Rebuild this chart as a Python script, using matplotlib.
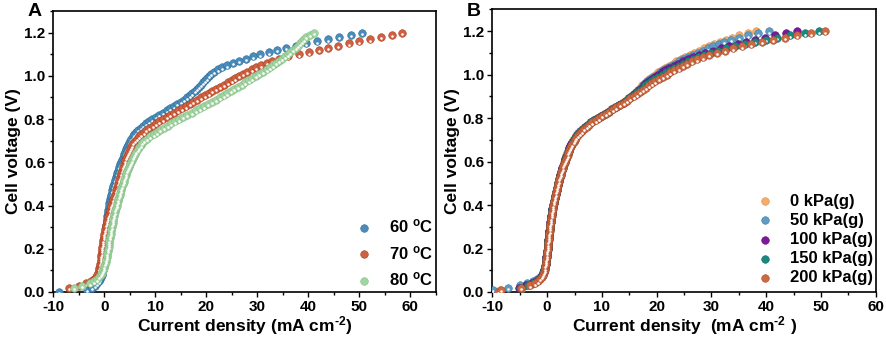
import numpy as np
import matplotlib
matplotlib.use("Agg")
import matplotlib.pyplot as plt
from matplotlib.transforms import offset_copy
from matplotlib.ticker import MultipleLocator

nan = np.nan

# LSV sweep grid, 0.00 .. 1.20 V in 10 mV steps
voltage = np.round(np.arange(121) * 0.01, 2)

# ---- panel A: temperature (current density, mA cm-2) ----
temp_labels = ["60 $^{o}$C", "70 $^{o}$C", "80 $^{o}$C"]
temp_colors = ["#4a8cba", "#cf6040", "#a3d4a3"]
temp_edges = ["#2f6d99", "#a84325", "#82bd82"]

j_60 = [-8.9, -3.4, -2.4, -1.8, -1.4, -1.1, -0.85, -0.65, -0.5, -0.38,
        -0.28, -0.2, -0.13, -0.07, -0.02, 0.02, 0.05, 0.08, 0.1, 0.12,
        0.14, 0.16, 0.18, 0.2, 0.22, 0.24, 0.27, 0.3, 0.33, 0.36,
        0.39, 0.42, 0.45, 0.49, 0.53, 0.58, 0.64, 0.7, 0.77, 0.84,
        0.92, 1.0, 1.08, 1.17, 1.26, 1.36, 1.46, 1.57, 1.68, 1.79,
        1.9, 2.03, 2.16, 2.29, 2.42, 2.55, 2.68, 2.82, 2.96, 3.12,
        3.28, 3.44, 3.6, 3.76, 3.93, 4.1, 4.27, 4.45, 4.64, 4.84,
        5.05, 5.3, 5.58, 5.9, 6.25, 6.65, 7.1, 7.6, 8.15, 8.75,
        9.4, 10.1, 10.8, 11.5, 12.2, 12.9, 13.6, 14.3, 14.95, 15.6,
        16.2, 16.75, 17.25, 17.7, 18.1, 18.5, 18.9, 19.3, 19.7, 20.1,
        20.5, 21.0, 21.6, 22.3, 23.1, 24.1, 25.2, 26.4, 27.7, 29.1,
        30.6, 32.2, 33.9, 35.7, 37.6, 39.6, 41.7, 43.9, 46.1, 48.3, 50.6]

j_70 = [nan, nan, -7.0, -5.0, -3.5, -2.6, -2.0, -1.6, -1.35, -1.18,
        -1.05, -0.95, -0.87, -0.8, -0.74, -0.68, -0.63, -0.58, -0.53, -0.48,
        -0.43, -0.38, -0.32, -0.26, -0.2, -0.14, -0.07, 0.0, 0.08, 0.17,
        0.26, 0.36, 0.46, 0.56, 0.67, 0.78, 0.9, 1.02, 1.14, 1.27,
        1.4, 1.53, 1.66, 1.79, 1.92, 2.06, 2.2, 2.34, 2.48, 2.6,
        2.72, 2.84, 2.96, 3.08, 3.2, 3.32, 3.45, 3.58, 3.71, 3.85,
        4.0, 4.15, 4.3, 4.46, 4.63, 4.81, 5.0, 5.2, 5.44, 5.7,
        6.0, 6.35, 6.75, 7.2, 7.7, 8.25, 8.85, 9.5, 10.15, 10.8,
        11.5, 12.2, 12.95, 13.7, 14.45, 15.2, 15.95, 16.7, 17.45, 18.2,
        18.95, 19.7, 20.45, 21.2, 21.95, 22.7, 23.45, 24.2, 24.95, 25.7,
        26.45, 27.25, 28.05, 28.9, 29.8, 30.75, 31.8, 32.95, 34.25, 35.95,
        38.1, 40.1, 42.0, 43.9, 45.9, 48.0, 50.0, 52.1, 54.3, 56.4, 58.3]

j_80 = [nan, nan, -6.0, -4.4, -2.9, -2.0, -1.45, -1.05, -0.75, -0.5,
        -0.3, -0.12, 0.03, 0.15, 0.26, 0.36, 0.45, 0.54, 0.62, 0.7,
        0.77, 0.83, 0.89, 0.95, 1.01, 1.07, 1.14, 1.21, 1.29, 1.37,
        1.45, 1.53, 1.61, 1.7, 1.79, 1.88, 1.98, 2.08, 2.18, 2.29,
        2.4, 2.51, 2.62, 2.74, 2.86, 2.98, 3.1, 3.23, 3.36, 3.5,
        3.64, 3.77, 3.9, 4.03, 4.17, 4.31, 4.46, 4.62, 4.79, 4.97,
        5.16, 5.36, 5.57, 5.79, 6.02, 6.26, 6.52, 6.8, 7.1, 7.45,
        7.85, 8.4, 9.0, 9.65, 10.3, 11.0, 11.7, 12.4, 13.15, 13.9,
        14.7, 15.5, 16.3, 17.1, 17.9, 18.7, 19.5, 20.3, 21.1, 21.9,
        22.7, 23.4, 24.1, 24.8, 25.5, 26.2, 26.9, 27.6, 28.3, 29.0,
        29.7, 30.4, 31.1, 31.8, 32.4, 33.0, 33.6, 34.2, 34.8, 35.4,
        36.0, 36.5, 37.0, 37.5, 37.9, 38.3, 38.7, 39.1, 39.6, 40.3, 41.2]

# ---- panel B: back pressure ----
pres_labels = ["0 kPa(g)", "50 kPa(g)", "100 kPa(g)", "150 kPa(g)", "200 kPa(g)"]
pres_colors = ["#f6ad6a", "#5e9cc4", "#7d1a9a", "#1a8a80", "#cc6a44"]
pres_edges = ["#e08a45", "#3d7ea8", "#5c0c78", "#0e6a62", "#a84c2a"]

j_0 = [-9.5, -8.6, -4.6, -3.2, -2.4, -1.8, -1.4, -1.1, -0.85, -0.65,
       -0.5, -0.42, -0.35, -0.29, -0.23, -0.18, -0.13, -0.08, -0.03, 0.02,
       0.07, 0.11, 0.15, 0.19, 0.23, 0.27, 0.31, 0.36, 0.41, 0.46,
       0.51, 0.56, 0.61, 0.66, 0.71, 0.77, 0.83, 0.89, 0.96, 1.03,
       1.1, 1.18, 1.27, 1.36, 1.45, 1.54, 1.63, 1.72, 1.81, 1.9,
       2.0, 2.1, 2.2, 2.31, 2.42, 2.53, 2.64, 2.76, 2.88, 3.0,
       3.13, 3.26, 3.39, 3.53, 3.67, 3.82, 3.98, 4.15, 4.34, 4.55,
       4.78, 5.04, 5.33, 5.65, 6.0, 6.4, 6.85, 7.35, 7.9, 8.5,
       9.15, 9.8, 10.45, 11.1, 11.75, 12.4, 13.05, 13.7, 14.3, 14.85,
       15.35, 15.8, 16.2, 16.6, 17.0, 17.4, 17.8, 18.2, 18.65, 19.15,
       19.7, 20.3, 20.9, 21.5, 22.2, 22.9, 23.6, 24.4, 25.2, 26.0,
       26.8, 27.7, 28.6, 29.5, 30.5, 31.5, 32.6, 33.8, 35.1, 36.6, 38.1]

j_50 = [nan, -9.9, -7.1, -5.0, -3.6, -2.5, -1.8, -1.3, -0.95, -0.7,
        -0.52, -0.43, -0.35, -0.28, -0.22, -0.17, -0.12, -0.07, -0.02, 0.03,
        0.08, 0.12, 0.16, 0.2, 0.24, 0.28, 0.32, 0.37, 0.42, 0.47,
        0.52, 0.57, 0.62, 0.67, 0.72, 0.78, 0.84, 0.9, 0.97, 1.04,
        1.11, 1.19, 1.28, 1.37, 1.46, 1.55, 1.64, 1.73, 1.82, 1.92,
        2.02, 2.12, 2.22, 2.33, 2.44, 2.55, 2.67, 2.79, 2.92, 3.06,
        3.2, 3.33, 3.46, 3.6, 3.74, 3.89, 4.05, 4.22, 4.41, 4.62,
        4.85, 5.11, 5.4, 5.72, 6.07, 6.47, 6.92, 7.42, 7.97, 8.57,
        9.22, 9.87, 10.52, 11.17, 11.82, 12.47, 13.12, 13.77, 14.37, 14.92,
        15.42, 15.87, 16.27, 16.67, 17.07, 17.47, 17.87, 18.3, 18.8, 19.4,
        20.0, 20.6, 21.2, 21.9, 22.6, 23.3, 24.1, 24.9, 25.7, 26.6,
        27.5, 28.4, 29.3, 30.3, 31.3, 32.3, 33.5, 35.0, 36.7, 38.5, 40.5]

j_100 = [nan, nan, -5.2, -3.8, -2.8, -2.0, -1.5, -1.1, -0.85, -0.65,
         -0.5, -0.42, -0.35, -0.29, -0.23, -0.18, -0.13, -0.08, -0.03, 0.02,
         0.07, 0.11, 0.15, 0.19, 0.23, 0.27, 0.31, 0.36, 0.41, 0.46,
         0.51, 0.56, 0.61, 0.66, 0.71, 0.77, 0.83, 0.89, 0.96, 1.03,
         1.1, 1.18, 1.27, 1.36, 1.45, 1.54, 1.63, 1.72, 1.81, 1.9,
         2.0, 2.1, 2.2, 2.31, 2.42, 2.53, 2.65, 2.78, 2.92, 3.07,
         3.22, 3.35, 3.48, 3.62, 3.76, 3.91, 4.07, 4.24, 4.43, 4.64,
         4.87, 5.13, 5.42, 5.74, 6.1, 6.5, 6.95, 7.45, 8.0, 8.6,
         9.25, 9.9, 10.55, 11.2, 11.85, 12.5, 13.15, 13.8, 14.4, 14.95,
         15.45, 15.92, 16.36, 16.8, 17.24, 17.68, 18.14, 18.62, 19.12, 19.7,
         20.3, 20.9, 21.6, 22.3, 23.1, 23.9, 24.8, 25.7, 26.7, 27.7,
         28.8, 30.3, 31.8, 33.3, 34.9, 36.4, 38.0, 39.8, 41.7, 43.7, 45.6]

j_150 = [nan, nan, -4.9, -3.5, -2.6, -1.9, -1.4, -1.05, -0.8, -0.62,
         -0.48, -0.4, -0.33, -0.27, -0.21, -0.16, -0.11, -0.06, -0.01, 0.04,
         0.09, 0.13, 0.17, 0.21, 0.25, 0.29, 0.33, 0.38, 0.43, 0.48,
         0.53, 0.58, 0.63, 0.68, 0.73, 0.79, 0.85, 0.91, 0.98, 1.05,
         1.12, 1.2, 1.29, 1.38, 1.47, 1.56, 1.65, 1.74, 1.83, 1.93,
         2.03, 2.13, 2.23, 2.34, 2.45, 2.56, 2.68, 2.81, 2.95, 3.1,
         3.26, 3.39, 3.52, 3.66, 3.8, 3.95, 4.11, 4.28, 4.47, 4.68,
         4.91, 5.17, 5.46, 5.79, 6.15, 6.55, 7.0, 7.5, 8.05, 8.65,
         9.3, 9.95, 10.6, 11.25, 11.9, 12.55, 13.2, 13.85, 14.45, 15.0,
         15.52, 16.02, 16.5, 16.98, 17.46, 17.96, 18.48, 19.02, 19.6, 20.25,
         20.95, 21.65, 22.4, 23.2, 24.0, 24.8, 25.7, 26.6, 27.6, 28.7,
         29.9, 31.2, 32.7, 34.3, 36.1, 38.0, 39.9, 42.0, 44.4, 47.0, 49.6]

j_200 = [-9.0, -8.4, -4.7, -3.2, -2.3, -1.7, -1.3, -1.0, -0.78, -0.6,
         -0.46, -0.38, -0.31, -0.25, -0.19, -0.14, -0.09, -0.04, 0.01, 0.06,
         0.11, 0.15, 0.19, 0.23, 0.27, 0.31, 0.35, 0.4, 0.45, 0.5,
         0.55, 0.6, 0.65, 0.7, 0.75, 0.81, 0.87, 0.93, 1.0, 1.07,
         1.14, 1.22, 1.31, 1.4, 1.49, 1.58, 1.67, 1.76, 1.85, 1.95,
         2.05, 2.15, 2.25, 2.36, 2.47, 2.58, 2.7, 2.83, 2.97, 3.13,
         3.3, 3.44, 3.58, 3.73, 3.88, 4.04, 4.21, 4.4, 4.6, 4.82,
         5.06, 5.33, 5.63, 5.97, 6.35, 6.77, 7.23, 7.73, 8.27, 8.85,
         9.45, 10.05, 10.7, 11.35, 12.0, 12.65, 13.3, 13.95, 14.6, 15.2,
         15.8, 16.4, 16.95, 17.5, 18.05, 18.6, 19.15, 19.75, 20.4, 21.1,
         21.8, 22.5, 23.2, 24.0, 24.8, 25.6, 26.5, 27.4, 28.5, 29.6,
         31.0, 32.5, 34.0, 35.6, 37.3, 39.2, 41.2, 43.4, 45.7, 48.1, 50.7]

plt.rcParams["font.family"] = ["Liberation Sans", "DejaVu Sans"]
plt.rcParams["font.weight"] = "bold"
plt.rcParams["axes.unicode_minus"] = False
plt.rcParams["mathtext.fontset"] = "custom"
plt.rcParams["mathtext.rm"] = "Liberation Sans:bold"
plt.rcParams["mathtext.it"] = "Liberation Sans:bold"
plt.rcParams["mathtext.bf"] = "Liberation Sans:bold"
plt.rcParams["mathtext.default"] = "rm"

fig = plt.figure(figsize=(8.86, 3.41), dpi=100)
axA = fig.add_axes([0.0602, 0.1437, 0.4317, 0.824])
axB = fig.add_axes([0.5557, 0.1437, 0.4327, 0.829])


def balls(ax, x, y, color, edge, label):
    # shaded "sphere" look: coloured dot plus a small white highlight
    h = ax.scatter(x, y, s=30, color=color, edgecolors=edge, linewidths=0.4,
                   label=label, zorder=3)
    hl = offset_copy(ax.transData, fig=fig, x=0, y=-1.5, units="dots")
    ax.scatter(x, y, s=3.5, color="white", linewidths=0, transform=hl, zorder=3)
    return h


def style(ax, xmax):
    ax.set_xlim(-10, xmax)
    ax.set_ylim(0, 1.3)
    ax.xaxis.set_major_locator(MultipleLocator(10))
    ax.xaxis.set_minor_locator(MultipleLocator(5))
    ax.yaxis.set_major_locator(MultipleLocator(0.2))
    ax.yaxis.set_minor_locator(MultipleLocator(0.1))
    ax.yaxis.set_major_formatter(plt.FormatStrFormatter("%.1f"))
    ax.tick_params(which="major", direction="out", length=3.5, width=1.0,
                   labelsize=11, pad=2.5)
    ax.tick_params(which="minor", direction="out", length=2, width=1.0)
    for sp in ax.spines.values():
        sp.set_linewidth(1.2)
    for lab in ax.get_xticklabels() + ax.get_yticklabels():
        lab.set_fontweight("bold")
    ax.set_ylabel("Cell voltage (V)", fontsize=12.5, fontweight="bold", labelpad=2)


series_A = [j_60, j_70, j_80]
for j, c, e, lab in zip(series_A, temp_colors, temp_edges, temp_labels):
    balls(axA, j, voltage, c, e, lab)
style(axA, 65)
axA.set_xlabel(r"Current density (mA cm$^{\text{-2}}$)", fontsize=12.5,
               fontweight="bold", labelpad=0)
axA.legend(loc="lower right", frameon=False, handlelength=1.0,
           handletextpad=1.0, labelspacing=0.5, borderaxespad=0.0,
           bbox_to_anchor=(1.012, -0.01), prop={"weight": "bold", "size": 12})

series_B = [j_0, j_50, j_100, j_150, j_200]
for j, c, e, lab in zip(series_B, pres_colors, pres_edges, pres_labels):
    balls(axB, j, voltage, c, e, lab)
style(axB, 60)
axB.set_xlabel(r"Current density  (mA cm$^{\text{-2}}$ )", fontsize=12.5,
               fontweight="bold", labelpad=0)
axB.legend(loc="lower right", frameon=False, handlelength=1.0,
           handletextpad=1.0, labelspacing=0.25, borderaxespad=0.0,
           bbox_to_anchor=(1.01, 0.0), prop={"weight": "bold", "size": 12})

fig.text(0.031, 0.99, "A", fontsize=14, fontweight="bold", va="top")
fig.text(0.527, 0.99, "B", fontsize=14, fontweight="bold", va="top")

fig.savefig("out.png", dpi=100)
